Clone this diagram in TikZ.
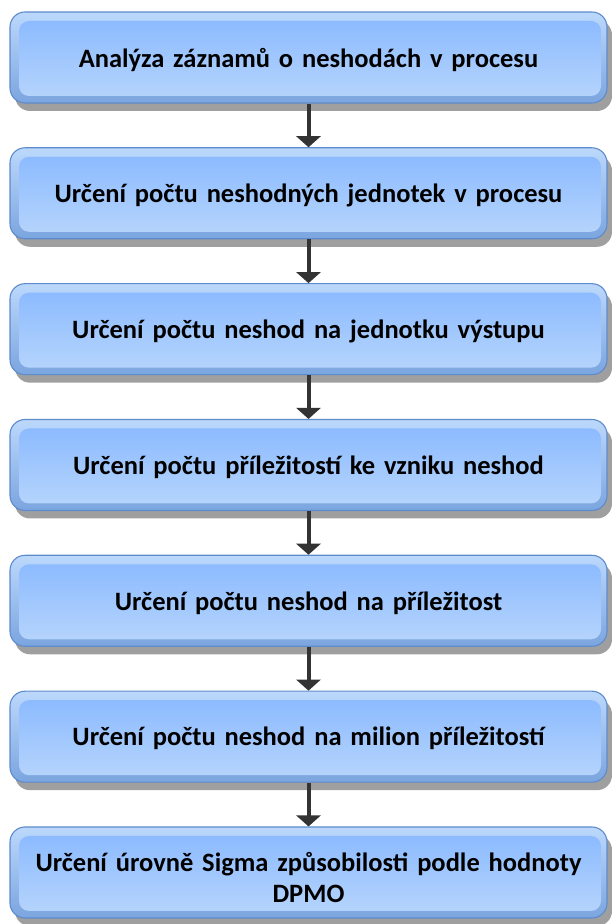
\documentclass[tikz,border=0pt]{standalone}
\usepackage{fontspec}
\setmainfont{Carlito}[WordSpace=0.8]
\usetikzlibrary{shadows,arrows.meta}

\definecolor{rimtop}{HTML}{BCD8FC}
\definecolor{rimbot}{HTML}{7BA5DF}
\definecolor{facetop}{HTML}{88B8FF}
\definecolor{facebot}{HTML}{B8D6FC}
\definecolor{edgeline}{HTML}{5E8BCB}
\definecolor{arrowgray}{HTML}{333333}

\tikzset{
  stepbox/.style={
    rounded corners=15pt,
    draw=edgeline, line width=1.1pt,
    top color=rimtop, bottom color=rimbot,
    minimum width=597pt, minimum height=91pt,
    inner sep=0pt, text width=585pt, align=center,
    font=\bfseries\fontsize{26.5}{31}\selectfont,
    % trims the bottom of the text block so the lines sit a little low
    execute at end node={\par\vspace*{-9pt}},
    drop shadow={shadow xshift=5pt, shadow yshift=-8pt,
                 fill=gray!75, opacity=1},
    path picture={
      \shade[top color=facetop, bottom color=facebot, rounded corners=10pt]
        ([shift={(9pt,-9pt)}]path picture bounding box.north west)
        rectangle
        ([shift={(-6pt,7pt)}]path picture bounding box.south east);
    }
  },
  flow/.style={
    draw=arrowgray, line width=4pt,
    -{Triangle[width=24pt,length=11pt]}
  }
}

\begin{document}
\begin{tikzpicture}[x=1pt,y=1pt]
  \useasboundingbox (0,0) rectangle (612,924);

  \node[stepbox] (b1) at (308.5,866.5) {Analýza záznamů o neshodách v procesu};
  \node[stepbox] (b2) at (308.5,730.7) {Určení počtu neshodných jednotek v procesu};
  \node[stepbox] (b3) at (308.5,594.8) {Určení počtu neshod na jednotku výstupu};
  \node[stepbox] (b4) at (308.5,459.0) {Určení počtu příležitostí ke vzniku neshod};
  \node[stepbox] (b5) at (308.5,323.2) {Určení počtu neshod na příležitost};
  \node[stepbox] (b6) at (308.5,187.3) {Určení počtu neshod na milion příležitostí};
  \node[stepbox] (b7) at (308.5,51.5) {Určení úrovně Sigma způsobilosti podle hodnoty\\DPMO};

  \draw[flow] (b1.south) -- (b2.north);
  \draw[flow] (b2.south) -- (b3.north);
  \draw[flow] (b3.south) -- (b4.north);
  \draw[flow] (b4.south) -- (b5.north);
  \draw[flow] (b5.south) -- (b6.north);
  \draw[flow] (b6.south) -- (b7.north);
\end{tikzpicture}
\end{document}
